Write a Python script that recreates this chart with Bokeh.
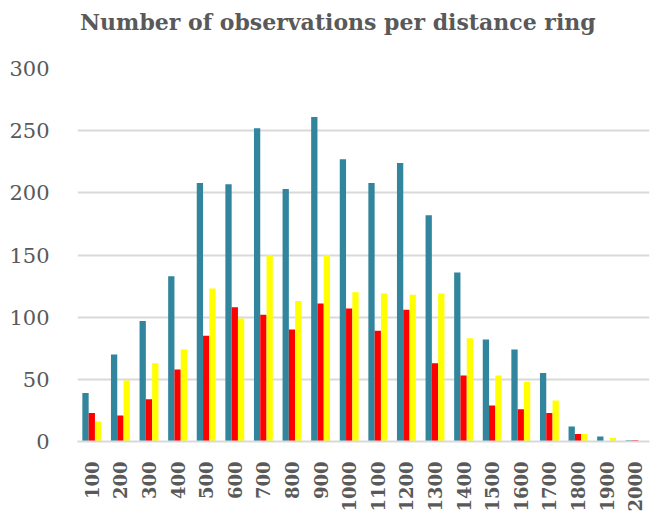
from bokeh.plotting import figure
from bokeh.models import FactorRange, ColumnDataSource, Range1d, SingleIntervalTicker, Div
from bokeh.layouts import column
from bokeh.transform import dodge
from bokeh.embed import file_html
from bokeh.resources import INLINE
import math

title_text = "Number of observations per distance ring"
distances = ["100", "200", "300", "400", "500", "600", "700", "800", "900", "1000",
             "1100", "1200", "1300", "1400", "1500", "1600", "1700", "1800", "1900", "2000"]
series_blue = [39, 70, 97, 133, 208, 207, 252, 203, 261, 227,
               208, 224, 182, 136, 82, 74, 55, 12, 4, 1]
series_red = [23, 21, 34, 58, 85, 108, 102, 90, 111, 107,
              89, 106, 63, 53, 29, 26, 23, 6, 0.5, 1]
series_yellow = [16, 49, 63, 74, 123, 99, 150, 113, 150, 120,
                 119, 118, 119, 83, 53, 48, 33, 6, 3, 0]

source = ColumnDataSource(dict(x=distances, blue=series_blue, red=series_red, yellow=series_yellow))

header = Div(text=title_text, width=652, height=58, margin=(0, 0, 0, 0),
             styles={"font-family": "DejaVu Serif", "font-weight": "bold",
                     "font-size": "22px", "color": "#595959", "line-height": "26px",
                     "padding-left": "80px", "padding-top": "9px", "box-sizing": "border-box",
                     "white-space": "nowrap"})

p = figure(x_range=FactorRange(*distances), y_range=Range1d(0, 300),
           width=652, height=462, output_backend="svg", toolbar_location=None)
p.min_border_left = 77
p.min_border_right = 3
p.min_border_top = 10
p.min_border_bottom = 79
p.outline_line_color = None

w = 0.22
p.vbar(x=dodge("x", -w, range=p.x_range), top="blue", width=w, source=source,
       color="#31859C", line_color=None)
p.vbar(x=dodge("x", 0, range=p.x_range), top="red", width=w, source=source,
       color="#FF0000", line_color=None)
p.vbar(x=dodge("x", w, range=p.x_range), top="yellow", width=w, source=source,
       color="#FFFF00", line_color=None)

p.xgrid.grid_line_color = None
p.ygrid.grid_line_color = "#d9d9d9"
p.ygrid.grid_line_width = 2
p.yaxis.ticker = SingleIntervalTicker(interval=50)

p.yaxis.axis_line_color = None
p.yaxis.major_tick_line_color = None
p.yaxis.minor_tick_line_color = None
p.yaxis.major_label_standoff = 22
p.yaxis.major_label_text_font = "DejaVu Serif"
p.yaxis.major_label_text_font_size = "21px"
p.yaxis.major_label_text_color = "#595959"

p.xaxis.axis_line_color = "#d9d9d9"
p.xaxis.axis_line_width = 2
p.xaxis.major_tick_line_color = None
p.xaxis.minor_tick_line_color = None
p.xaxis.major_label_orientation = math.pi / 2
p.xaxis.major_label_standoff = 14
p.xaxis.major_label_text_font = "DejaVu Serif"
p.xaxis.major_label_text_font_size = "18px"
p.xaxis.major_label_text_font_style = "bold"
p.xaxis.major_label_text_color = "#595959"

layout = column(header, p, spacing=0)
open("out.html", "w").write(file_html(layout, INLINE))
